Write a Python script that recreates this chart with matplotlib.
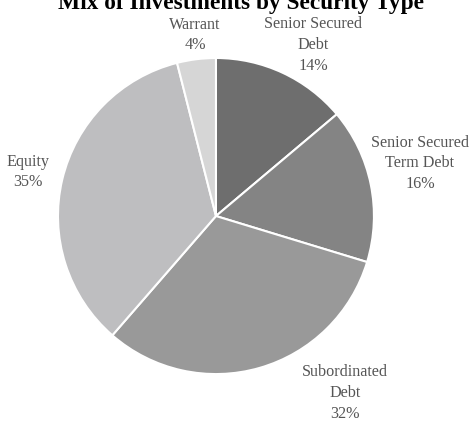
import matplotlib

matplotlib.use("Agg")
import matplotlib.pyplot as plt

# Chart data
categories = ["Senior Secured\nDebt", "Senior Secured\nTerm Debt", "Subordinated\nDebt", "Equity", "Warrant"]
shares = [14, 16, 32, 35, 4]
colors = ["#6e6e6e", "#848484", "#999999", "#bebec0", "#d6d6d6"]

# Label anchors (data coords, pie radius = 1)
label_xy = [(0.614, 1.082), (1.291, 0.335), (0.816, -1.12), (-1.19, 0.278), (-0.133, 1.146)]

plt.rcParams["font.family"] = ["Liberation Serif", "DejaVu Serif"]

fig = plt.figure(figsize=(4.73, 4.21), dpi=100)
ax = fig.add_axes([0, 0, 1, 1])

ax.pie(
    shares,
    colors=colors,
    startangle=90,
    counterclock=False,
    radius=1.0,
    wedgeprops={"edgecolor": "white", "linewidth": 1.5},
)

for name, val, (x, y) in zip(categories, shares, label_xy):
    ax.text(x, y, f"{name}\n{val}%", ha="center", va="center", fontsize=11.6,
            color="#555555", linespacing=1.38)

ax.text(0.158, 1.31, "Mix of Investments by Security Type", ha="center", va="baseline",
        fontsize=16.8, fontweight="bold", color="black")

ax.set_xlim(-1.367, 1.627)
ax.set_ylim(-1.297, 1.367)
ax.set_aspect("auto")
ax.axis("off")

fig.savefig("out.png", dpi=100)
